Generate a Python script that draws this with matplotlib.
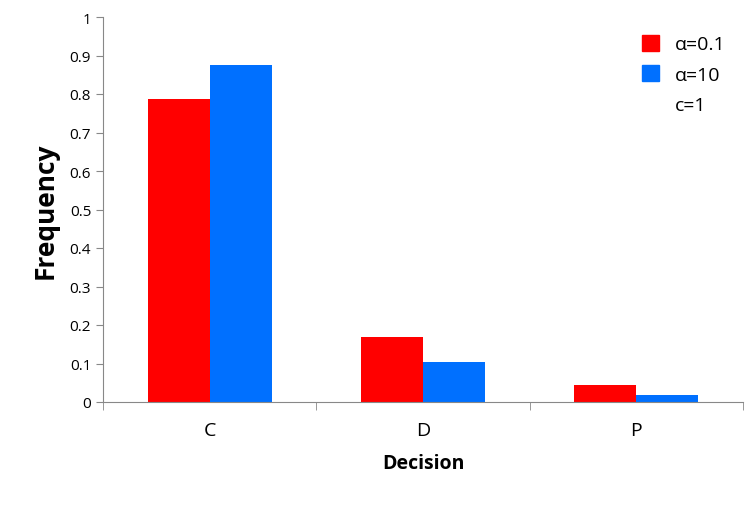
import matplotlib
matplotlib.use("Agg")
import matplotlib.pyplot as plt
import numpy as np
from matplotlib.patches import Patch

categories = ["C", "D", "P"]
alpha01 = [0.787, 0.168, 0.044]
alpha10 = [0.876, 0.105, 0.018]
yticks = [0, 0.1, 0.2, 0.3, 0.4, 0.5, 0.6, 0.7, 0.8, 0.9, 1]
ytick_labels = ["0", "0.1", "0.2", "0.3", "0.4", "0.5", "0.6", "0.7", "0.8", "0.9", "1"]

plt.rcParams["font.family"] = "Open Sans"
fig = plt.figure(figsize=(7.51, 5.10), dpi=100)
ax = fig.add_axes([103/751, 1-403/510, 640/751, 385/510])
x = np.arange(len(categories))
w = 0.29
ax.bar(x - w/2, alpha01, w, color="#ff0000", label="α=0.1")
ax.bar(x + w/2, alpha10, w, color="#0070ff", label="α=10")
ax.set_xlim(-0.5, 2.5)
ax.set_ylim(0, 1)
ax.set_yticks(yticks)
ax.set_yticklabels(ytick_labels, fontsize=11)
ax.set_xticks(x)
ax.set_xticklabels(categories, fontsize=14)
ax.set_xticks([-0.5, 0.5, 1.5, 2.5], minor=True)
ax.tick_params(axis="x", which="major", length=0, pad=14)
ax.tick_params(axis="x", which="minor", length=6, color="#888888", direction="out")
ax.tick_params(axis="y", length=5, color="#888888", direction="out")
for s in ["top", "right"]:
    ax.spines[s].set_visible(False)
for s in ["left", "bottom"]:
    ax.spines[s].set_color("#888888")
ax.set_ylabel("Frequency", fontsize=19, fontweight="bold", labelpad=8)
ax.set_xlabel("Decision", fontsize=14, fontweight="bold", labelpad=10)
handles = [Patch(color="#ff0000"), Patch(color="#0070ff"), Patch(color="none")]
ax.legend(handles, ["α=0.1", "α=10", "c=1"], loc="upper right", bbox_to_anchor=(1.0, 1.0),
          frameon=False, fontsize=14, handlelength=0.9, handleheight=0.9, labelspacing=0.6)
fig.savefig("out.png", dpi=100)
